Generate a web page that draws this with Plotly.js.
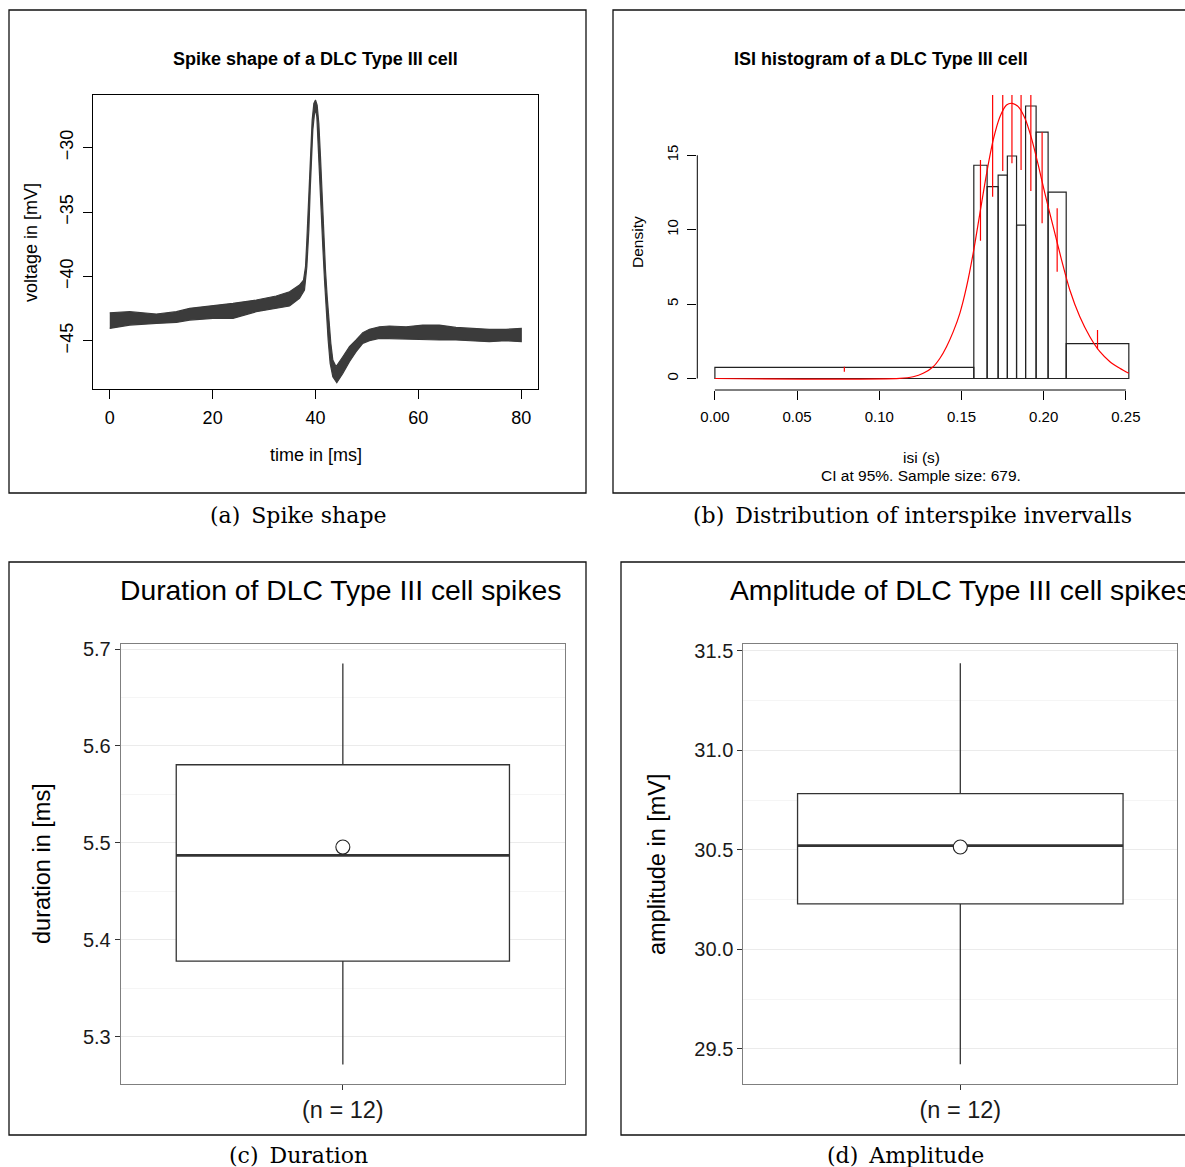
<!DOCTYPE html>
<html><head><meta charset="utf-8">
<script src="https://cdn.plot.ly/plotly-3.0.1.min.js"></script>
<style>body{margin:0;background:#fff}#chart{width:1185px;height:1167px}</style>
</head><body><div id="chart"></div>
<script>
const W = 1185, H = 1167;

// ---------- (a) spike shape: envelope of the overlaid traces ----------
const spikeUpperT = [0, 3.88, 9.06, 12.95, 15.53, 20.06, 23.95, 28.48, 32.36, 34.95, 36.89, 37.67, 38.06, 38.32, 38.58, 38.83, 39.09, 39.35, 39.68, 40.0, 40.32, 40.65, 40.97, 41.30, 41.62, 41.94, 42.27, 42.59, 42.98, 43.37, 44.01, 45.31, 46.60, 47.90, 49.19, 50.49, 52.43, 54.37, 57.61, 60.84, 64.08, 67.31, 70.55, 73.79, 77.02, 80.0];
const spikeUpperV = [-42.82, -42.74, -42.92, -42.74, -42.48, -42.30, -42.09, -41.83, -41.52, -41.19, -40.67, -40.28, -39.24, -37.17, -34.58, -31.99, -29.66, -27.85, -26.55, -26.29, -26.68, -28.11, -30.70, -33.80, -36.91, -39.50, -41.57, -43.39, -45.20, -46.50, -47.01, -46.24, -45.46, -44.94, -44.37, -44.11, -43.91, -43.85, -43.91, -43.78, -43.78, -43.96, -44.04, -44.11, -44.11, -44.04];
const spikeLowerT = [0, 3.88, 9.06, 12.95, 15.53, 20.06, 23.95, 28.48, 32.36, 34.95, 36.89, 37.86, 38.32, 38.71, 38.97, 39.22, 39.48, 39.81, 40.0, 40.26, 40.52, 40.78, 41.10, 41.42, 41.75, 42.07, 42.46, 42.85, 43.37, 44.14, 45.31, 46.60, 47.90, 49.19, 50.49, 52.43, 54.37, 57.61, 60.84, 64.08, 67.31, 70.55, 73.79, 77.02, 80.0];
const spikeLowerV = [-44.04, -43.78, -43.65, -43.57, -43.39, -43.26, -43.26, -42.74, -42.48, -42.30, -41.70, -41.06, -39.24, -36.39, -33.29, -30.70, -28.62, -27.33, -27.07, -27.59, -29.14, -31.47, -34.58, -37.69, -40.28, -42.61, -44.94, -46.75, -47.79, -48.26, -47.53, -46.63, -45.85, -45.20, -44.99, -44.81, -44.81, -44.89, -44.89, -44.94, -44.94, -44.99, -45.07, -44.99, -45.07];
const timeTicks = [0, 20, 40, 60, 80];
const voltTicks = [-45, -40, -35, -30];

// ---------- (b) ISI histogram ----------
const isiBreaks  = [0, 0.1575, 0.1656, 0.1723, 0.1779, 0.1835, 0.1890, 0.1954, 0.2027, 0.2137, 0.2518];
const isiDensity = [0.75, 14.33, 12.89, 13.66, 14.95, 10.30, 18.31, 16.55, 12.53, 2.34];
const ciLow  = [0.46, 9.26, 12.22, 13.94, 14.46, 14.01, 12.60, 10.43, 7.18, 1.96];
const ciHigh = [0.79, 14.68, 21.0, 21.5, 22.0, 21.5, 21.0, 16.55, 11.44, 3.26];
const fitX = [0, 0.1125, 0.1206, 0.1267, 0.1328, 0.1369, 0.1409, 0.1450, 0.1490, 0.1531, 0.1571, 0.1612, 0.1653, 0.1693, 0.1734, 0.1774, 0.1809, 0.1845, 0.1886, 0.1926, 0.1967, 0.2007, 0.2058, 0.2109, 0.2159, 0.2220, 0.2281, 0.2342, 0.2403, 0.2463, 0.2518];
const fitY = [0, 0.01, 0.12, 0.35, 0.79, 1.36, 2.14, 3.15, 4.38, 6.17, 8.41, 11.10, 13.79, 16.03, 17.59, 18.38, 18.49, 18.27, 17.49, 16.14, 14.35, 12.45, 10.20, 7.96, 5.95, 4.15, 2.81, 1.80, 1.13, 0.69, 0.35];
const isiTicks = [0, 0.05, 0.10, 0.15, 0.20, 0.25];
const densTicks = [0, 5, 10, 15];

// ---------- (c) duration, (d) amplitude: [lower whisker, Q1, median, Q3, upper whisker] ----------
const durationBox = [5.2714, 5.378, 5.4871, 5.5806, 5.6852];
const durationMean = [5.4957];
const amplitudeBox = [29.423, 30.229, 30.522, 30.783, 31.438];
const amplitudeMean = [30.515];
const boxLabel = ['(n = 12)'];

// ---------- helpers ----------
const dx = (a, b) => [a / W, b / W];
const dy = (top, bot) => [1 - bot / H, 1 - top / H];
const px = X => X / W, py = Y => 1 - Y / H;

const traces = [];
// (a)
traces.push({
  x: spikeUpperT.concat(spikeLowerT.slice().reverse()),
  y: spikeUpperV.concat(spikeLowerV.slice().reverse()),
  mode: 'lines', fill: 'toself', fillcolor: '#3b3b3b',
  line: {color: '#3b3b3b', width: 1.2}, xaxis: 'x', yaxis: 'y', hoverinfo: 'skip'
});
// (b) bars
const mids = [], widths = [];
for (let i = 0; i < isiDensity.length; i++) {
  mids.push((isiBreaks[i] + isiBreaks[i + 1]) / 2);
  widths.push(isiBreaks[i + 1] - isiBreaks[i]);
}
traces.push({
  type: 'bar', x: mids, y: isiDensity, width: widths,
  marker: {color: 'rgba(255,255,255,0)', line: {color: '#222', width: 1.2}},
  xaxis: 'x2', yaxis: 'y2', hoverinfo: 'skip'
});
traces.push({
  x: fitX, y: fitY, mode: 'lines', line: {color: '#ff0000', width: 1.2, shape: 'spline', smoothing: 0.8},
  xaxis: 'x2', yaxis: 'y2', hoverinfo: 'skip'
});
const ciX = [], ciY = [];
for (let i = 0; i < mids.length; i++) { ciX.push(mids[i], mids[i], null); ciY.push(ciLow[i], ciHigh[i], null); }
traces.push({
  x: ciX, y: ciY, mode: 'lines', line: {color: '#ff0000', width: 1.2},
  xaxis: 'x2', yaxis: 'y2', hoverinfo: 'skip'
});
// (c) & (d)
function boxTraces(stats, mean, xa, ya) {
  return [
    {type: 'box', x: [1], lowerfence: [stats[0]], q1: [stats[1]], median: [stats[2]], q3: [stats[3]], upperfence: [stats[4]],
     width: 0.9, whiskerwidth: 0, fillcolor: '#ffffff', line: {color: '#333333', width: 1.3},
     boxpoints: false, xaxis: xa, yaxis: ya, hoverinfo: 'skip'},
    {x: [0.55, 1.45], y: [stats[2], stats[2]], mode: 'lines', line: {color: '#333333', width: 2.6},
     xaxis: xa, yaxis: ya, hoverinfo: 'skip'},
    {x: [1], y: mean, mode: 'markers', marker: {size: 14, color: '#ffffff', line: {color: '#222', width: 1.1}},
     xaxis: xa, yaxis: ya, hoverinfo: 'skip', cliponaxis: false}
  ];
}
traces.push(...boxTraces(durationBox, durationMean, 'x3', 'y3'));
traces.push(...boxTraces(amplitudeBox, amplitudeMean, 'x4', 'y4'));

const baseAx = {showgrid: false, zeroline: false, ticks: 'outside', tickcolor: '#000', tickwidth: 1,
  tickfont: {size: 15, color: '#000'}, fixedrange: true};
const ggY = {zeroline: false, ticks: 'outside', ticklen: 5, tickcolor: '#333', tickwidth: 1,
  tickfont: {size: 20, color: '#1a1a1a'}, showline: true, mirror: true, linecolor: '#7f7f7f', linewidth: 1,
  showgrid: true, gridcolor: '#ebebeb', gridwidth: 1, fixedrange: true};
const ggX = {range: [0.4, 1.6], tickvals: [1], ticktext: boxLabel, ticks: 'outside', ticklen: 5, tickcolor: '#333',
  tickfont: {size: 23.5, color: '#1a1a1a'}, showline: true, mirror: true, linecolor: '#7f7f7f', linewidth: 1,
  showgrid: false, zeroline: false, fixedrange: true};

const ann = (text, X, Y, size, opts) => Object.assign({text: text, x: px(X), y: py(Y), xref: 'paper', yref: 'paper',
  showarrow: false, xanchor: 'center', yanchor: 'middle', font: {size: size, color: '#000'}}, opts || {});
const cap = {family: 'DejaVu Serif, serif', size: 22, color: '#000'};

const layout = {
  width: W, height: H, margin: {l: 0, r: 0, t: 0, b: 0}, showlegend: false,
  paper_bgcolor: '#fff', plot_bgcolor: 'rgba(0,0,0,0)',
  font: {family: 'Liberation Sans, Arial, sans-serif', color: '#000'},
  xaxis: Object.assign({}, baseAx, {domain: dx(93.3, 537.7), range: [-3.2, 83.2], tickvals: timeTicks, ticklen: 9,
    tickfont: {size: 18, color: '#000'},
    showline: true, mirror: true, linecolor: '#000', linewidth: 1, anchor: 'y', ticklabelstandoff: 3}),
  yaxis: Object.assign({}, baseAx, {domain: dy(95, 389.3), range: [-48.77, -25.9], tickvals: voltTicks, ticklen: 9,
    tickfont: {size: 18, color: '#000'},
    tickangle: -90, showline: true, mirror: true, linecolor: '#000', linewidth: 1, anchor: 'x', ticklabelstandoff: 3}),
  xaxis2: Object.assign({}, baseAx, {domain: dx(697.3, 1145.6), range: [-0.0107, 0.262], tickvals: isiTicks,
    tickformat: '.2f', ticklen: 9, showline: false, anchor: 'y2', ticklabelstandoff: 4}),
  yaxis2: Object.assign({}, baseAx, {domain: dy(95, 390), range: [-0.773, 19.05], tickvals: densTicks, ticklen: 9,
    tickangle: -90, showline: false, anchor: 'x2', ticklabelstandoff: 3}),
  xaxis3: Object.assign({}, ggX, {domain: dx(120.7, 565), anchor: 'y3'}),
  yaxis3: Object.assign({}, ggY, {domain: dy(644, 1084), range: [5.2512, 5.7052], dtick: 0.1, tick0: 5.3,
    tickformat: '.1f', anchor: 'x3', minor: {dtick: 0.05, tick0: 5.25, showgrid: true, gridcolor: '#f5f5f5', gridwidth: 1}}),
  xaxis4: Object.assign({}, ggX, {domain: dx(743.3, 1177.3), anchor: 'y4'}),
  yaxis4: Object.assign({}, ggY, {domain: dy(644, 1084), range: [29.324, 31.535], dtick: 0.5, tick0: 29.5,
    tickformat: '.1f', anchor: 'x4', minor: {dtick: 0.25, tick0: 29.25, showgrid: true, gridcolor: '#f5f5f5', gridwidth: 1}}),
  shapes: [
    // outer frames
    {type: 'rect', xref: 'paper', yref: 'paper', x0: px(9), x1: px(586), y0: py(10), y1: py(493), line: {color: '#111', width: 1.3}},
    {type: 'rect', xref: 'paper', yref: 'paper', x0: px(613), x1: px(1195), y0: py(10), y1: py(493), line: {color: '#111', width: 1.3}},
    {type: 'rect', xref: 'paper', yref: 'paper', x0: px(9), x1: px(586), y0: py(562), y1: py(1135), line: {color: '#111', width: 1.3}},
    {type: 'rect', xref: 'paper', yref: 'paper', x0: px(621), x1: px(1195), y0: py(562), y1: py(1135), line: {color: '#111', width: 1.3}},
    // R-style axis lines for (b), spanning first to last tick
    {type: 'line', xref: 'x2', yref: 'y2 domain', x0: isiTicks[0], x1: isiTicks[isiTicks.length - 1], y0: 0, y1: 0, line: {color: '#000', width: 1}},
    {type: 'line', xref: 'x2 domain', yref: 'y2', x0: 0, x1: 0, y0: densTicks[0], y1: densTicks[densTicks.length - 1], line: {color: '#000', width: 1}}
  ],
  annotations: [
    ann('<b>Spike shape of a DLC Type III cell</b>', 315.5, 59, 18),
    ann('time in [ms]', 315.5, 455, 18),
    ann('voltage in [mV]', 31, 242, 18, {textangle: -90}),
    ann('<b>ISI histogram of a DLC Type III cell</b>', 880.5, 59, 18),
    ann('isi (s)', 921, 457, 15.5),
    ann('CI at 95%. Sample size: 679.', 921, 475, 15.5),
    ann('Density', 637, 242, 15.5, {textangle: -90}),
    ann('Duration of DLC Type III cell spikes', 340.5, 590, 28.3),
    ann('duration in [ms]', 42, 864, 23.5, {textangle: -90}),
    ann('Amplitude of DLC Type III cell spikes', 960.3, 590, 28.3),
    ann('amplitude in [mV]', 657, 864, 23.5, {textangle: -90}),
    ann('(a)\u2002Spike shape', 298, 516, 22, {font: cap}),
    ann('(b)\u2002Distribution of interspike invervalls', 912, 516, 22, {font: cap}),
    ann('(c)\u2002Duration', 298, 1155, 22, {font: cap}),
    ann('(d)\u2002Amplitude', 905.5, 1155, 22, {font: cap})
  ]
};

Plotly.newPlot('chart', traces, layout, {staticPlot: true, displayModeBar: false});
</script>
</body></html>
